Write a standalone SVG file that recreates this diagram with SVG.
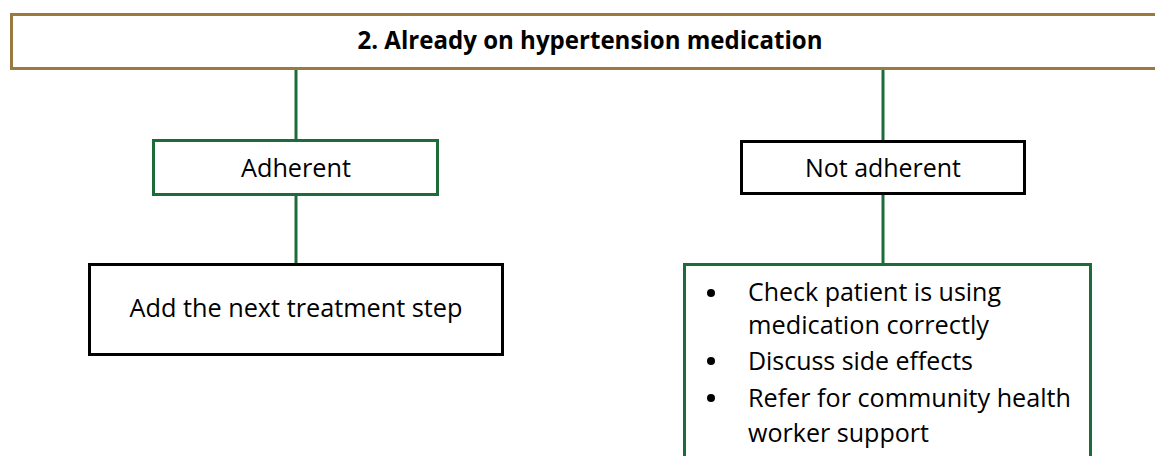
<svg xmlns="http://www.w3.org/2000/svg" width="1155" height="456" viewBox="0 0 1155 456">
  <style>
    .box { fill: #ffffff; stroke-width: 3; }
    .brown { stroke: #9b7a3f; }
    .green { stroke: #1e6b3a; }
    .black { stroke: #000000; }
    .link { stroke: #1e6b3a; stroke-width: 3; fill: none; }
    text { font-family: "Open Sans", "Liberation Sans", sans-serif; fill: #000000; }
    .title { font-size: 25px; font-weight: bold; }
    .label { font-size: 25px; }
  </style>

  <g id="connectors">
    <line class="link" x1="296" y1="68" x2="296" y2="140"/>
    <line class="link" x1="296" y1="195" x2="296" y2="264"/>
    <line class="link" x1="883" y1="68" x2="883" y2="141"/>
    <line class="link" x1="883" y1="194" x2="883" y2="264"/>
  </g>

  <g id="header">
    <rect class="box brown" x="11.5" y="14.5" width="1160" height="54"/>
    <text class="title" x="590" y="49" text-anchor="middle" textLength="465" lengthAdjust="spacingAndGlyphs">2. Already on hypertension medication</text>
  </g>

  <g id="adherent">
    <rect class="box green" x="153.5" y="140.5" width="284" height="54"/>
    <text class="label" x="296" y="177" text-anchor="middle" textLength="110" lengthAdjust="spacingAndGlyphs">Adherent</text>
  </g>

  <g id="not-adherent">
    <rect class="box black" x="741.5" y="141.5" width="283" height="52"/>
    <text class="label" x="883" y="177" text-anchor="middle" textLength="156" lengthAdjust="spacingAndGlyphs">Not adherent</text>
  </g>

  <g id="next-step">
    <rect class="box black" x="89.5" y="264.5" width="413" height="90"/>
    <text class="label" x="296" y="317" text-anchor="middle" textLength="333" lengthAdjust="spacingAndGlyphs">Add the next treatment step</text>
  </g>

  <g id="adherence-actions">
    <rect class="box green" x="684.5" y="264.5" width="406" height="220"/>
    <circle cx="711" cy="293" r="4"/>
    <circle cx="711" cy="361" r="4"/>
    <circle cx="711" cy="398" r="4"/>
    <text class="label" x="748" y="301" textLength="253" lengthAdjust="spacingAndGlyphs">Check patient is using</text>
    <text class="label" x="748" y="334" textLength="241" lengthAdjust="spacingAndGlyphs">medication correctly</text>
    <text class="label" x="748" y="370" textLength="225" lengthAdjust="spacingAndGlyphs">Discuss side effects</text>
    <text class="label" x="748" y="407" textLength="323" lengthAdjust="spacingAndGlyphs">Refer for community health</text>
    <text class="label" x="748" y="442" textLength="181" lengthAdjust="spacingAndGlyphs">worker support</text>
  </g>
</svg>
